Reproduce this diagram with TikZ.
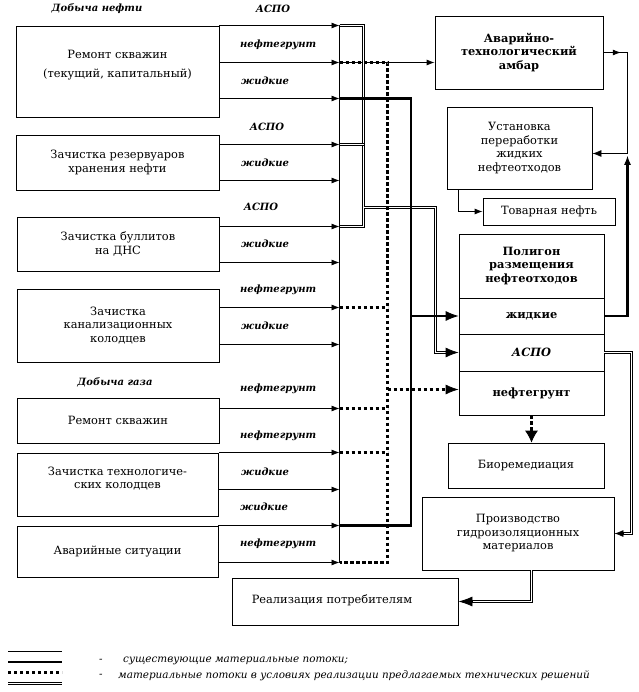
\documentclass[tikz,border=0pt]{standalone}
\usepackage{fontspec}
\setmainfont{DejaVu Serif}
\usetikzlibrary{arrows.meta,calc}
\begin{document}
\begin{tikzpicture}[x=1pt,y=-1pt,
  box/.style={draw, line width=0.8pt, inner sep=0pt, align=center, font=\fontsize{11.4}{13.5}\selectfont},
  btxt/.style={align=center, inner sep=0pt, font=\fontsize{11.4}{13.5}\selectfont},
  lbl/.style={inner sep=0pt, font=\fontsize{10}{12}\selectfont\bfseries\itshape},
  leg/.style={inner sep=0pt, anchor=west, font=\fontsize{10.4}{12}\selectfont\itshape},
  thinl/.style={line width=0.8pt},
  tarr/.style={line width=0.8pt, -{Latex[length=8pt,width=6pt]}},
  thickl/.style={line width=2.4pt},
  dots/.style={line width=3.6pt, dash pattern=on 3.4pt off 2.6pt},
  dbl/.style={line width=1pt, double, double distance=1pt},
  bigarr/.style={line width=0.8pt, -{Latex[length=13pt,width=10pt]}},
  midarr/.style={line width=0.8pt, -{Latex[length=9pt,width=7pt]}},
]
\useasboundingbox (0,0) rectangle (638,692);

% ---------- left boxes ----------
\node[box, minimum width=203pt, minimum height=91pt] (b1) at (117.5,71.5) {};
\node[btxt] (t1) at (117.5,65) {Ремонт скважин\\[5pt](текущий, капитальный)};
\node[box, minimum width=203pt, minimum height=55pt] (b2) at (117.5,162.5) {Зачистка резервуаров\\хранения нефти};
\node[box, minimum width=202pt, minimum height=54pt] (b3) at (118,244) {Зачистка буллитов\\на ДНС};
\node[box, minimum width=202pt, minimum height=73pt] (b4) at (118,325.5) {Зачистка\\канализационных\\колодцев};
\node[box, minimum width=202pt, minimum height=45pt] (b5) at (118,420.5) {Ремонт скважин};
\node[box, minimum width=201pt, minimum height=63pt] (b6) at (117.5,484.5) {};
\node[btxt] (t6) at (117.5,478.5) {Зачистка технологиче-\\ских колодцев};
\node[box, minimum width=201pt, minimum height=51pt] (b7) at (117.5,551.5) {Аварийные ситуации};

\node[lbl] (h1) at (97,9) {Добыча нефти};
\node[lbl] (h2) at (115,382) {Добыча газа};

% ---------- flow labels ----------
\node[lbl] (l1) at (273,9) {АСПО};
\node[lbl, anchor=west] (l2) at (240,45) {нефтегрунт};
\node[lbl, anchor=west] (l3) at (241,81) {жидкие};
\node[lbl] (l4) at (267,127) {АСПО};
\node[lbl, anchor=west] (l5) at (241,163) {жидкие};
\node[lbl] (l6) at (261,207) {АСПО};
\node[lbl, anchor=west] (l7) at (241,244) {жидкие};
\node[lbl, anchor=west] (l8) at (240,290) {нефтегрунт};
\node[lbl, anchor=west] (l9) at (241,326) {жидкие};
\node[lbl, anchor=west] (l10) at (240,389) {нефтегрунт};
\node[lbl, anchor=west] (l11) at (240,436) {нефтегрунт};
\node[lbl, anchor=west] (l12) at (241,472) {жидкие};
\node[lbl, anchor=west] (l13) at (240,507) {жидкие};
\node[lbl, anchor=west] (l14) at (240,544) {нефтегрунт};

% ---------- right boxes ----------
\node[box, font=\fontsize{11.4}{13.5}\selectfont\bfseries, minimum width=168pt, minimum height=73pt] (amb) at (519,52.5) {Аварийно-\\технологический\\амбар};
\node[box, minimum width=145pt, minimum height=82pt] (ust) at (519.5,148) {Установка\\переработки\\жидких\\нефтеотходов};
\node[box, minimum width=132pt, minimum height=27pt] (tov) at (549,211.5) {Товарная нефть};
\node[box, font=\fontsize{11.4}{13.5}\selectfont\bfseries, minimum width=145pt, minimum height=64pt] (p0) at (531.5,266) {Полигон\\размещения\\нефтеотходов};
\node[box, font=\fontsize{11.4}{13.5}\selectfont\bfseries, minimum width=145pt, minimum height=36pt] (p1) at (531.5,316) {жидкие};
\node[box, font=\fontsize{11.4}{13.5}\selectfont\bfseries\itshape, minimum width=145pt, minimum height=37pt] (p2) at (531.5,352.5) {АСПО};
\node[box, font=\fontsize{11.4}{13.5}\selectfont\bfseries, minimum width=145pt, minimum height=44pt] (p3) at (531.5,393) {нефтегрунт};
\node[box, minimum width=156pt, minimum height=45pt] (bio) at (526,465.5) {Биоремедиация};
\node[box, minimum width=192pt, minimum height=73pt] (pr) at (518,533.5) {Производство\\гидроизоляционных\\материалов};
\node[box, minimum width=226pt, minimum height=47pt] (real) at (345,601.5) {};
\node[btxt] (treal) at (332,600) {Реализация потребителям};

% ---------- collector coordinates ----------
\foreach \yy in {25,62,98,144,180,226,262,307,344,408,452,489,525,562}
  \coordinate (k\yy) at (339.5,\yy.5);

% source arrows
\draw[tarr] (b1.east |- k25) -- (k25);
\draw[tarr] (b1.east |- k62) -- (k62);
\draw[tarr] (b1.east |- k98) -- (k98);
\draw[tarr] (b2.east |- k144) -- (k144);
\draw[tarr] (b2.east |- k180) -- (k180);
\draw[tarr] (b3.east |- k226) -- (k226);
\draw[tarr] (b3.east |- k262) -- (k262);
\draw[tarr] (b4.east |- k307) -- (k307);
\draw[tarr] (b4.east |- k344) -- (k344);
\draw[tarr] (b5.east |- k408) -- (k408);
\draw[tarr] (b5.east |- k452) -- (k452);
\draw[tarr] (b6.east |- k489) -- (k489);
\draw[tarr] (b6.east |- k525) -- (k525);
\draw[tarr] (b7.east |- k562) -- (k562);

% thin collector and existing flow to amb
\draw[thinl] (k25) -- (k562);
\draw[tarr] (k62) -- (amb.west |- k62);

% double (ASPO) flows
\coordinate (d1) at (363.5,25.5);
\coordinate (d2) at (363.5,226.5);
\coordinate (d3) at (363.5,207.5);
\coordinate (d4) at (435.5,207.5);
\draw[dbl] (k25) -- (d1) -- (d2) -- (k226);
\draw[dbl] (k144) -- (k144 -| d1);
\draw[dbl] (d3) -- (d4) |- ($(p2.west)+(-11,0)$);
\draw[bigarr] ($(p2.west)+(-13,0)$) -- (p2.west);

% thick (liquid) flows
\coordinate (s1) at (411,98.5);
\coordinate (s2) at (411,525.5);
\draw[thickl] (k98) -- (s1) -- (s2) -- (k525);
\draw[thickl] (s1 |- p1.west) -- ($(p1.west)+(-11,0)$);
\draw[bigarr] ($(p1.west)+(-13,0)$) -- (p1.west);

% dotted (oil-soil) flows
\coordinate (q1) at (387.5,62.5);
\coordinate (q2) at (387.5,562.5);
\coordinate (q3) at (387.5,389.5);
\draw[dots] (k62) -- (q1) -- (q2) -- (k562);
\draw[dots] (k307) -- (k307 -| q1);
\draw[dots] (k408) -- (k408 -| q1);
\draw[dots] (k452) -- (k452 -| q1);
\draw[dots] (q3) -- ([xshift=-12pt]p3.west |- q3);
\draw[bigarr] ([xshift=-13pt]p3.west |- q3) -- (p3.west |- q3);

% right side flows
\coordinate (r1) at (627.5,52.5);
\coordinate (r2) at (627.5,153.5);
\coordinate (r3) at (627.5,156);
\draw[tarr] (amb.east) -- ($(amb.east)!0.72!(r1)$);
\draw[thinl] (amb.east) -- (r1) -- (r2);
\draw[midarr] (r2) -- (ust.east |- r2);
\draw[thickl] (p1.east) -- (p1.east -| r1) -- ([yshift=-8pt]r3);
\draw[midarr] ([yshift=-10pt]r3) -- (r3);

\draw[tarr] ([xshift=12pt]ust.south west) |- (tov.west);

\draw[dots] (p3.south) -- ([yshift=11pt]p3.south |- bio.north);
\draw[line width=0.8pt, -{Latex[length=12pt,width=13pt]}] ([yshift=12pt]p3.south |- bio.north) -- (p3.south |- bio.north);

\coordinate (u1) at (631.5,352.5);
\draw[dbl] (p2.east) -- (u1) |- ($(pr.east)+(9,0)$);
\draw[midarr] ($(pr.east)+(10,0)$) -- (pr.east);

\draw[dbl] ([xshift=13.5pt]pr.south) |- ($(real.east)+(12,0)$);
\draw[line width=0.8pt, -{Latex[length=14pt,width=10pt]}] ($(real.east)+(14,0)$) -- (real.east);

% ---------- legend ----------
\draw[thinl] (8,651.5) -- (62,651.5);
\draw[thickl] (8,662) -- (62,662);
\draw[dots] (8,672.5) -- (62,672.5);
\draw[dbl] (8,683.5) -- (62,683.5);
\node[leg] (g1) at (99,661) {-};
\node[leg] (g2) at (123,661) {существующие материальные потоки;};
\node[leg] (g3) at (99,676) {-};
\node[leg] (g4) at (118,676) {материальные потоки в условиях реализации предлагаемых технических решений};
\end{tikzpicture}
\end{document}
